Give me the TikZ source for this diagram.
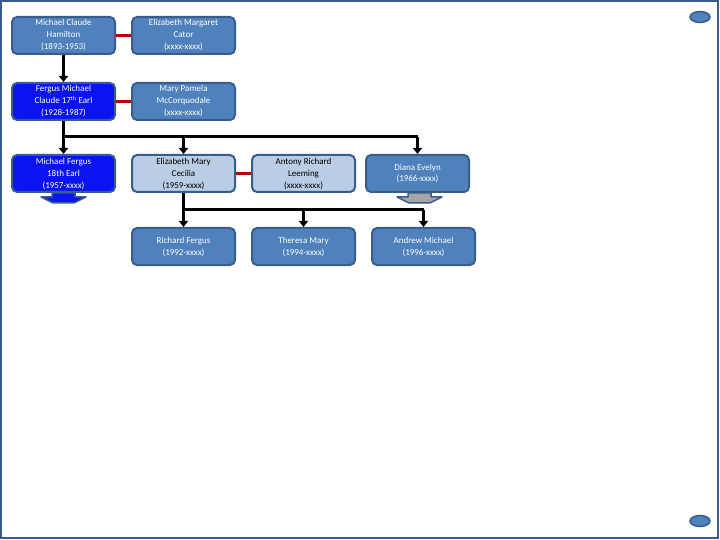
\documentclass[tikz,border=0pt]{standalone}
\usepackage{fontspec}
\setmainfont{Carlito}
\usetikzlibrary{arrows.meta,shapes.geometric}
\definecolor{bord}{HTML}{385D8A}
\definecolor{midblue}{HTML}{4F81BD}
\definecolor{lightblue}{HTML}{B9CDE5}
\definecolor{brightblue}{HTML}{0A14F0}
\definecolor{redline}{RGB}{192,0,0}
\definecolor{greyfill}{HTML}{A6A6A6}
\begin{document}
\begin{tikzpicture}[x=1pt,y=-1pt,
  person/.style={draw=bord,line width=2pt,rounded corners=5pt,fill=midblue,
    minimum width=103pt,minimum height=37pt,inner sep=1pt,align=center,
    text=white,font=\fontsize{9}{12}\selectfont},
  lightperson/.style={person,fill=lightblue,text=black},
  brightperson/.style={person,fill=brightblue},
  spouse/.style={draw=redline,line width=3pt},
  link/.style={draw=black,line width=3pt},
  arr/.style={link,-{Triangle[width=9pt,length=6pt]}},
  ov/.style={ellipse,draw=bord,line width=1.5pt,fill=midblue,minimum width=20pt,minimum height=11pt,inner sep=0pt},
  tab/.style={draw=bord,line width=1.5pt,line join=round}]
\useasboundingbox (0,0) rectangle (720,540);
\draw[bord,line width=2pt] (1,1) rectangle (718,538);

\node[person] (mch) at (63.5,35.5) {Michael Claude\\Hamilton\\(1893-1953)};
\node[person] (emc) at (183.5,35.5) {Elizabeth Margaret\\Cator\\(xxxx-xxxx)};
\node[brightperson] (fmc) at (63.5,101.5) {Fergus Michael\\Claude 17\textsuperscript{th} Earl\\(1928-1987)};
\node[person] (mpm) at (183.5,101.5) {Mary Pamela\\McCorquodale\\(xxxx-xxxx)};
\node[brightperson] (mfe) at (63.5,173.5) {Michael Fergus\\18th Earl\\(1957-xxxx)};
\node[lightperson] (emce) at (183.5,173.5) {Elizabeth Mary\\Cecilia\\(1959-xxxx)};
\node[lightperson] (arl) at (303.5,173.5) {Antony Richard\\Leeming\\(xxxx-xxxx)};
\node[person] (de) at (417.5,173.5) {Diana Evelyn\\(1966-xxxx)};
\node[person] (rf) at (183.5,246.5) {Richard Fergus\\(1992-xxxx)};
\node[person] (tm) at (303.5,246.5) {Theresa Mary\\(1994-xxxx)};
\node[person] (am) at (423.5,246.5) {Andrew Michael\\(1996-xxxx)};

\node[ov] (ovtop) at (700,17) {};
\node[ov] (ovbot) at (700,521) {};

% tabs under boxes
\draw[tab,fill=brightblue] (52,193) -- (52,197) -- (41,197) -- (53,203) -- (74,203) -- (86,197) -- (75,197) -- (75,193) -- cycle;
\draw[tab,fill=greyfill] (408,193) -- (408,197) -- (397,197) -- (409,203) -- (430,203) -- (442,197) -- (431,197) -- (431,193) -- cycle;

% spouses
\draw[spouse] (mch.east) -- (emc.west);
\draw[spouse] (fmc.east) -- (mpm.west);
\draw[spouse] (emce.east) -- (arl.west);

% generation 1 -> 2
\draw[arr] (mch.south) -- (fmc.north);

% generation 2 -> 3
\coordinate (j1) at (63.5,137);
\draw[link] (fmc.south) -- (j1);
\draw[link] (j1) -- (j1 -| de.north);
\draw[arr] (j1) -- (mfe.north);
\draw[arr] (j1 -| emce.north) -- (emce.north);
\draw[arr] (j1 -| de.north) -- (de.north);

% generation 3 -> 4
\coordinate (j2) at (183.5,210);
\draw[link] (emce.south) -- (j2);
\draw[link] (j2) -- (j2 -| am.north);
\draw[arr] (j2) -- (rf.north);
\draw[arr] (j2 -| tm.north) -- (tm.north);
\draw[arr] (j2 -| am.north) -- (am.north);
\end{tikzpicture}
\end{document}
